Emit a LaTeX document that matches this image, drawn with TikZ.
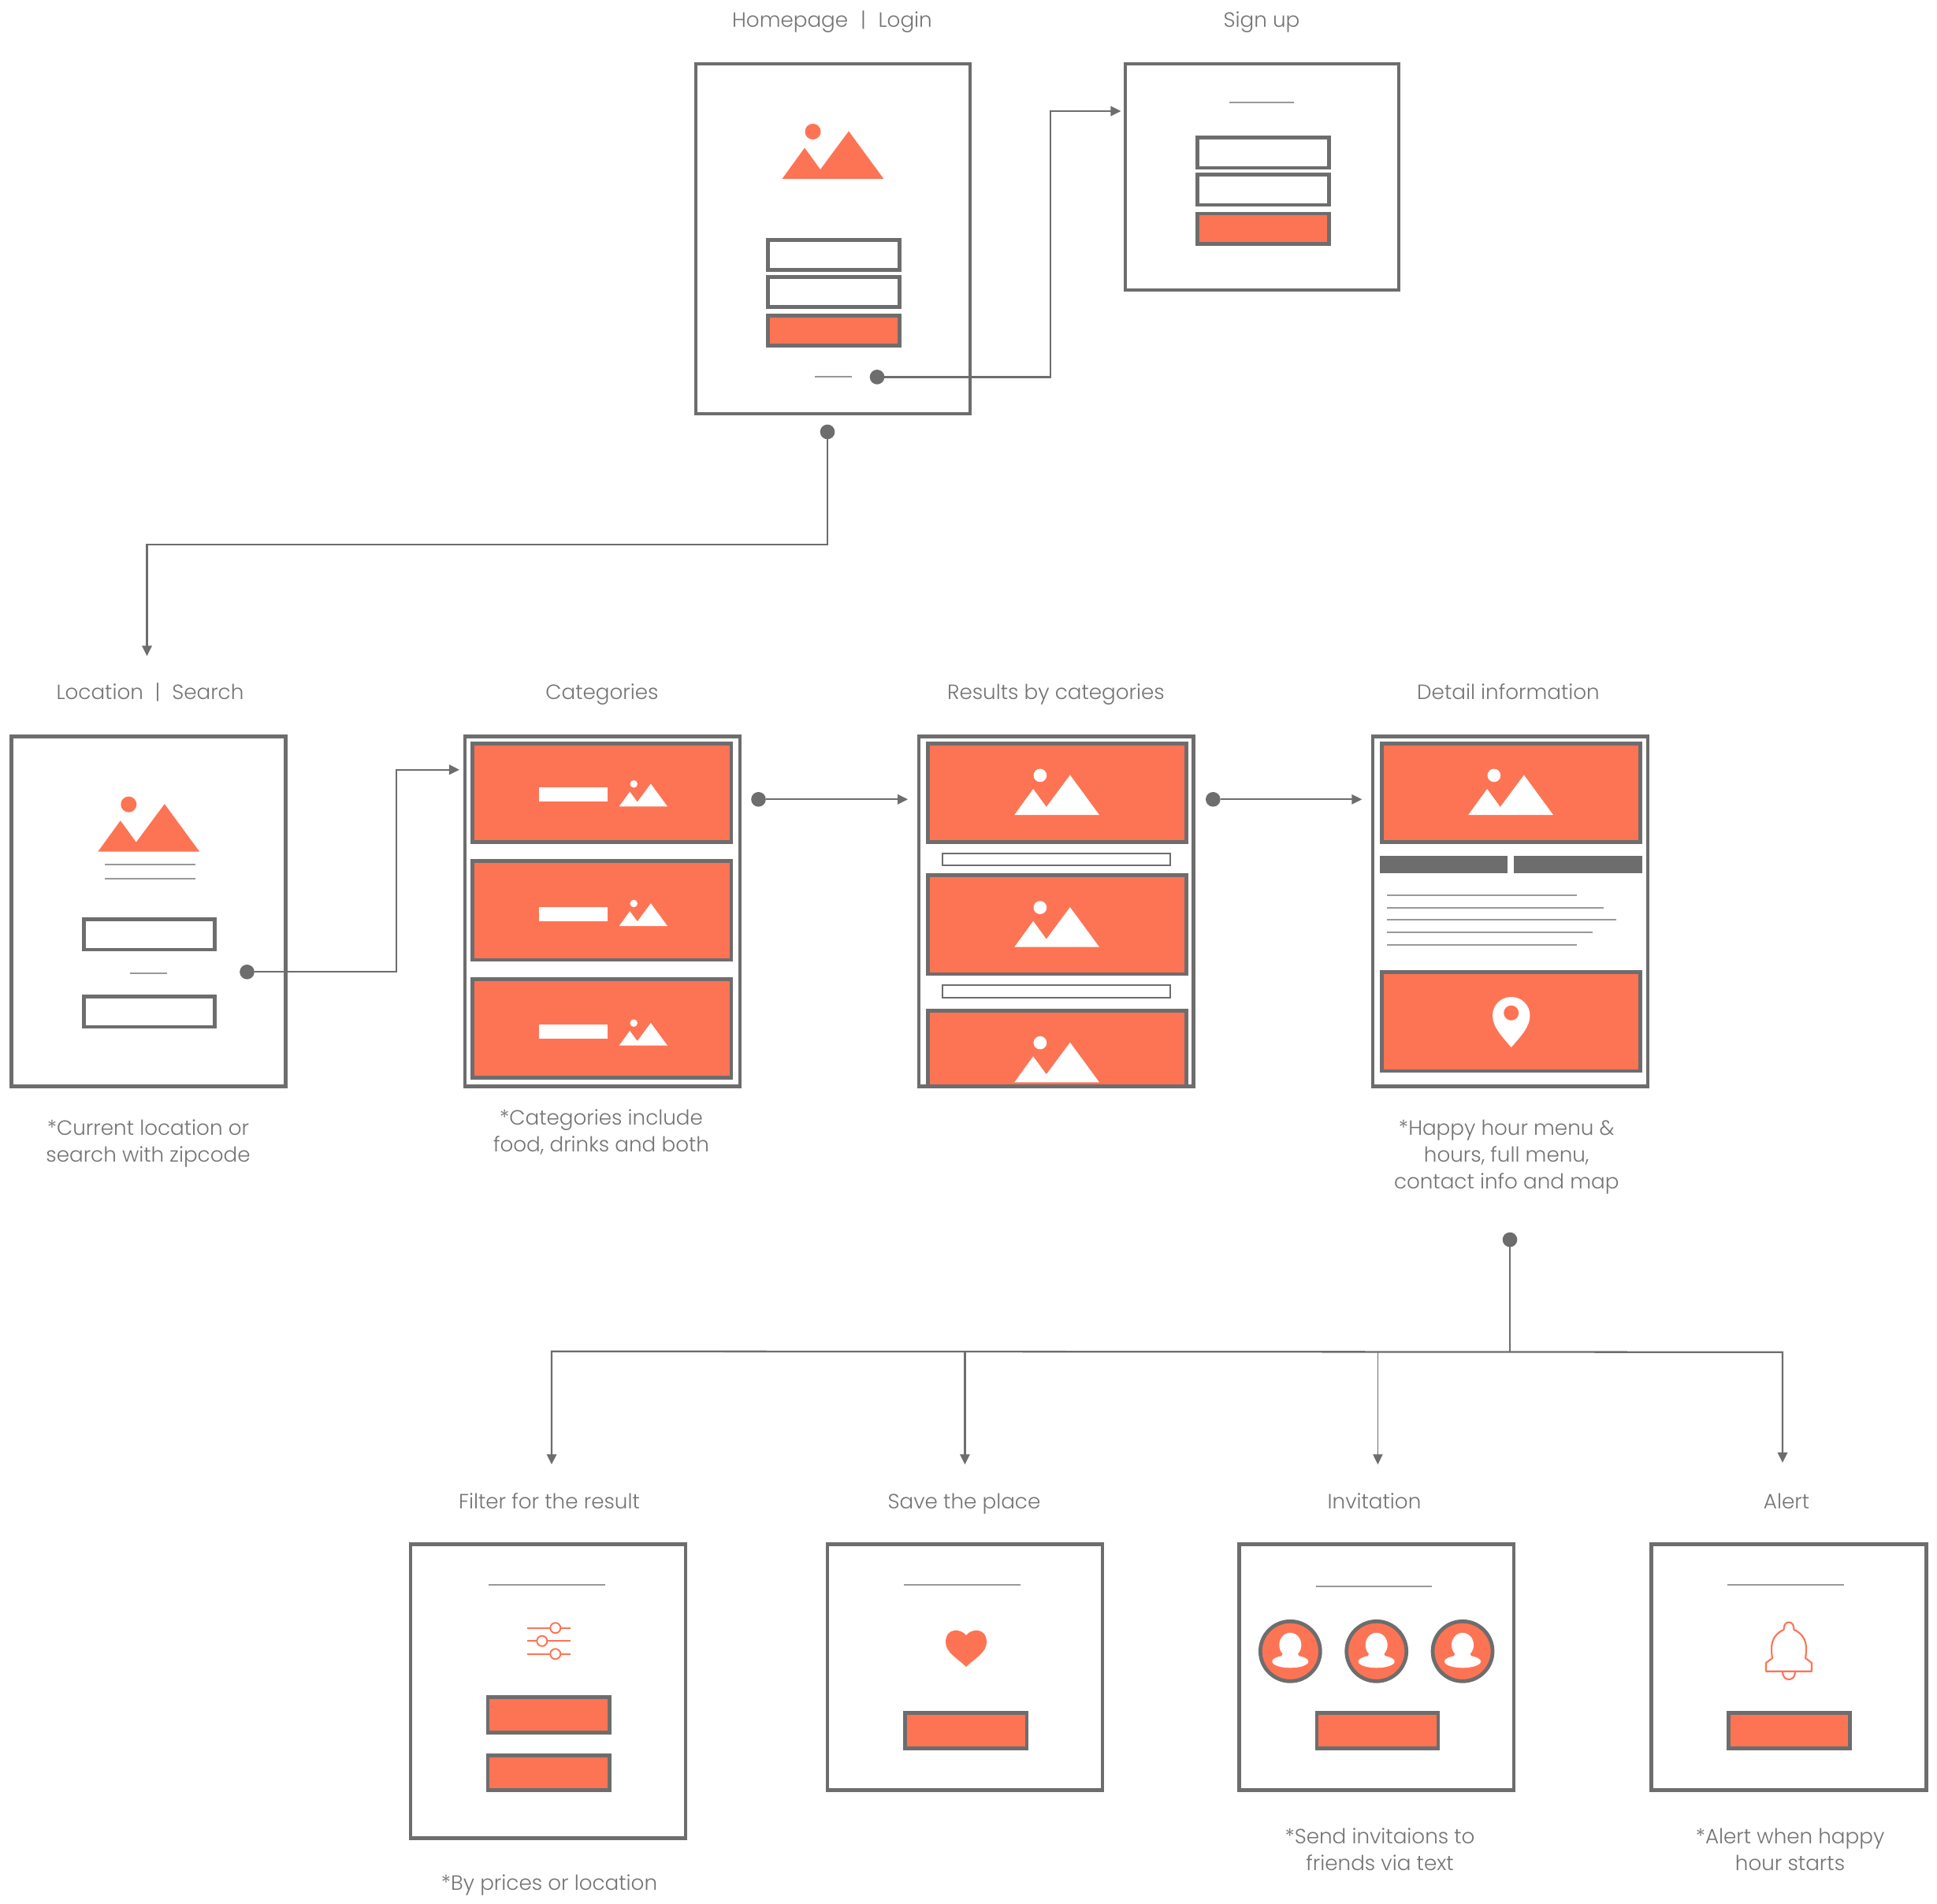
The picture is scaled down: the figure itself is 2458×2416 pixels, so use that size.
\documentclass[tikz,border=0pt]{standalone}
\usepackage{fontspec}
\setmainfont{Poppins}[UprightFont=* Light]
\usetikzlibrary{arrows.meta}
\definecolor{ink}{HTML}{6D6D6D}
\definecolor{coral}{HTML}{FD7455}
\definecolor{rule}{HTML}{999999}
\definecolor{txt}{HTML}{737373}
\tikzset{
  screen/.style={draw=ink,line width=1.4pt,fill=white,inner sep=0pt,outer sep=0pt},
  field/.style={draw=ink,line width=1.35pt,fill=white,inner sep=0pt,outer sep=0pt},
  cta/.style={draw=ink,line width=1.35pt,fill=coral,inner sep=0pt,outer sep=0pt},
  slim/.style={draw=ink,line width=.6pt,fill=white,inner sep=0pt,outer sep=0pt},
  solid bar/.style={fill=ink,inner sep=0pt,outer sep=0pt},
  white bar/.style={fill=white,inner sep=0pt,outer sep=0pt},
  hair/.style={draw=rule,line width=.6pt},
  dot/.style={circle,fill=ink,inner sep=0pt,outer sep=0pt,minimum size=5.3pt},
  link/.style={draw=ink,line width=.65pt,-{Triangle[length=3.7pt,width=3.5pt]}},
  linkplain/.style={draw=ink,line width=.65pt},
  lbl/.style={text=txt,font=\fontsize{7.45}{9.67}\selectfont,align=center,inner sep=0pt,
    execute at begin node=\strut,execute at end node=\strut},
}
% name, x1, y1, x2, y2, style
\newcommand{\bx}[6]{\node[#6,minimum width=(#4-#2)*0.01cm,minimum height=(#5-#3)*0.01cm] (#1) at ({(#2+#4)/2},{(#3+#5)/2}) {};}
% x (left of base), y (base), scale, colour
\newcommand{\mount}[4]{%
  \fill[#4] ({#1},{#2}) -- ({#1+28.5*#3},{#2-39.4*#3}) -- ({#1+48.5*#3},{#2-12*#3}) -- ({#1+84.5*#3},{#2-60.5*#3}) -- ({#1+128.9*#3},{#2}) -- cycle;
  \fill[#4] ({#1+39*#3},{#2-60*#3}) circle[radius={10*#3}];}
% centre x, y
\newcommand{\person}[2]{%
  \fill[coral,draw=ink,line width=1.35pt] ({#1},{#2}) circle[radius=38];
  \fill[white] ({#1},{#2-8}) ellipse[x radius=14,y radius=15.5];
  \fill[white] ({#1-8},{#2}) -- ({#1+8},{#2}) -- ({#1+12},{#2+8}) -- ({#1-12},{#2+8}) -- cycle;
  \fill[white] ({#1},{#2+13}) ellipse[x radius=23,y radius=8];}
\begin{document}
\begin{tikzpicture}[x=0.01cm,y=-0.01cm]
\useasboundingbox (0,0) rectangle (2458,2416);

% --- titles
\node[lbl] (tHome) at (1056,27.5) {Homepage\hspace{4.5pt}|\hspace{4.5pt}Login};
\node[lbl] (tSign) at (1601,27.5) {Sign up};
\node[lbl] (tLoc) at (190.5,880.5) {Location\hspace{4.2pt}|\hspace{4.2pt}Search};
\node[lbl] (tCat) at (764,880.5) {Categories};
\node[lbl] (tRes) at (1340,880.5) {Results by categories};
\node[lbl] (tDet) at (1914,880.5) {Detail information};
\node[lbl] (tFil) at (697,1907.5) {Filter for the result};
\node[lbl] (tSav) at (1223.5,1907.5) {Save the place};
\node[lbl] (tInv) at (1744,1907.5) {Invitation};
\node[lbl] (tAle) at (2267,1907.5) {Alert};
% --- notes
\node[lbl] (nLoc) at (188,1452.5) {*Current location or\\search with zipcode};
\node[lbl] (nCat) at (763,1439.5) {*Categories include\\food, drinks and both};
\node[lbl] (nDet) at (1911.7,1469.5) {*Happy hour menu \&\\hours, full menu,\\contact info and map};
\node[lbl] (nFil) at (697,2391.5) {*By prices or location};
\node[lbl] (nInv) at (1751,2352) {*Send invitaions to\\friends via text};
\node[lbl] (nAle) at (2271.5,2352) {*Alert when happy\\hour starts};

% --- Homepage
\bx{home}{883}{81}{1231}{525}{screen}
\mount{992.5}{227}{1}{coral}
\bx{homeA}{974.3}{304.3}{1141.3}{342.7}{field}
\bx{homeB}{974.3}{351.3}{1141.3}{389.7}{field}
\bx{homeC}{974.3}{400.3}{1141.3}{438.7}{cta}
\draw[hair] (1033.9,478.4) -- (1080.6,478.4);

% --- Sign up
\bx{sign}{1428}{81}{1775}{368}{screen}
\draw[hair] (1560,130) -- (1641.8,130);
\bx{signA}{1519.3}{174.7}{1686.3}{213}{field}
\bx{signB}{1519.3}{221.7}{1686.3}{260}{field}
\bx{signC}{1519.3}{271}{1686.3}{309.3}{cta}

% --- Location
\bx{loc}{14.5}{934.5}{362.7}{1378.5}{screen}
\mount{124.3}{1080.7}{1}{coral}
\draw[hair] (133,1097) -- (248,1097);
\draw[hair] (133,1115) -- (248,1115);
\bx{locA}{106.3}{1166.6}{272.7}{1205}{field}
\draw[hair] (164.7,1235.3) -- (212,1235.3);
\bx{locB}{106.3}{1264.6}{272.7}{1303}{field}

% --- Categories
\bx{cat}{590}{934.5}{939}{1378.5}{screen}
\bx{catA}{599.5}{943.3}{928}{1068.8}{cta}
\bx{catB}{599.5}{1092.5}{928}{1218}{cta}
\bx{catC}{599.5}{1242.3}{928}{1367.8}{cta}
\bx{catAb}{684}{999}{771}{1017}{white bar}
\bx{catBb}{684}{1150.7}{771}{1168.7}{white bar}
\bx{catCb}{684}{1300}{771}{1318.3}{white bar}
\mount{785.7}{1023.3}{.475}{white}
\mount{785.7}{1175}{.475}{white}
\mount{785.7}{1326.7}{.475}{white}

% --- Results
\bx{res}{1166}{934.5}{1514.5}{1378.5}{screen}
\bx{resA}{1177.5}{943.3}{1505.8}{1068.8}{cta}
\bx{resS}{1196.3}{1082.7}{1484.7}{1098.3}{slim}
\bx{resB}{1177.5}{1110.5}{1505.8}{1236}{cta}
\bx{resT}{1196.3}{1250.3}{1484.7}{1265.7}{slim}
\bx{resC}{1177.5}{1282.3}{1505.8}{1378.5}{cta}
\mount{1287.3}{1034}{.835}{white}
\mount{1287.3}{1201.7}{.835}{white}
\mount{1287.3}{1373.3}{.835}{white}

% --- Detail
\bx{det}{1742}{934.5}{2091}{1378.5}{screen}
\bx{detA}{1753.2}{943.3}{2081.8}{1068.8}{cta}
\mount{1863.3}{1034}{.835}{white}
\bx{detL}{1751}{1086}{1913.3}{1108.3}{solid bar}
\bx{detR}{1921}{1086}{2083.7}{1108.3}{solid bar}
\draw[hair] (1760,1136) -- (2001,1136);
\draw[hair] (1760,1152) -- (2034.7,1152);
\draw[hair] (1760,1167.3) -- (2050.7,1167.3);
\draw[hair] (1760,1183) -- (2021.3,1183);
\draw[hair] (1760,1199) -- (2001,1199);
\bx{detM}{1753.2}{1233.2}{2081.8}{1359}{cta}
\fill[white] (1917.7,1329) .. controls (1905,1314) and (1894,1303) .. (1894,1288.5) .. controls (1894,1275) and (1905,1265) .. (1917.7,1265) .. controls (1930.5,1265) and (1941.4,1275) .. (1941.4,1288.5) .. controls (1941.4,1303) and (1930.5,1314) .. (1917.7,1329) -- cycle;
\fill[coral] (1917.7,1285.3) circle[radius=9.5];

% --- Filter
\bx{fil}{521}{1959.2}{870}{2332.8}{screen}
\draw[hair] (620.3,2010.7) -- (768.2,2010.7);
\foreach \yy/\xx in {2065.7/704.8,2082.3/687.8,2098.7/704.8}{
  \draw[coral,line width=.6pt] (669,\yy) -- (724.2,\yy);
  \draw[coral,line width=.55pt,fill=white] (\xx,\yy) circle[radius=6.5];
}
\bx{filA}{619}{2153.5}{773.6}{2198.5}{cta}
\bx{filB}{619}{2227.5}{773.6}{2271.8}{cta}

% --- Save
\bx{sav}{1050}{1959.2}{1399}{2271.8}{screen}
\draw[hair] (1147.3,2010.7) -- (1295.2,2010.7);
\fill[coral] (1226,2075) .. controls (1219,2066) and (1200,2065) .. (1200,2084) .. controls (1200,2097) and (1216,2105) .. (1226,2115) .. controls (1236,2105) and (1252,2097) .. (1252,2084) .. controls (1252,2065) and (1233,2066) .. (1226,2075) -- cycle;
\bx{savA}{1148.2}{2173.5}{1303}{2218.5}{cta}

% --- Invitation
\bx{inv}{1572.5}{1959.2}{1921}{2271.8}{screen}
\draw[hair] (1670,2012.7) -- (1817,2012.7);
\person{1637.3}{2095.3}
\person{1746.7}{2095.3}
\person{1856}{2095.3}
\bx{invA}{1671}{2173.5}{1825}{2218.5}{cta}

% --- Alert
\bx{ale}{2095.4}{1959.2}{2444}{2271.8}{screen}
\draw[hair] (2192.3,2010.7) -- (2340,2010.7);
\draw[coral,line width=.6pt,line join=round] (2262,2120.7) .. controls (2262,2127) and (2265,2131) .. (2270,2131) .. controls (2275,2131) and (2278,2127) .. (2278,2120.7);
\draw[coral,line width=.6pt,line join=round,fill=white] (2270,2058.5) .. controls (2266,2058.5) and (2263.5,2062) .. (2263.5,2068) .. controls (2254,2072) and (2248,2080) .. (2248,2092) .. controls (2248,2097) and (2248.5,2101) .. (2249,2104) -- (2241,2110) -- (2241,2120.7) -- (2299,2120.7) -- (2299,2110) -- (2291,2104) .. controls (2291.5,2101) and (2292,2097) .. (2292,2092) .. controls (2292,2080) and (2286,2072) .. (2276.5,2068) .. controls (2276.5,2062) and (2274,2058.5) .. (2270,2058.5) -- cycle;
\bx{aleA}{2193.2}{2173.5}{2347.6}{2218.5}{cta}

% --- connectors
\node[dot] (dHomeR) at (1113,478.4) {};
\node[dot] (dHomeB) at (1050,548) {};
\node[dot] (dLoc) at (313.5,1233.3) {};
\node[dot] (dCat) at (962.5,1014.3) {};
\node[dot] (dRes) at (1539.3,1014.3) {};
\node[dot] (dDet) at (1916,1573) {};
\coordinate (eSign) at (1422.4,141);
\coordinate (eLoc) at (186.5,832.5);
\coordinate (eCat) at (583,976.7);
\coordinate (eRes) at (1152,1014.3);
\coordinate (eDet) at (1728.3,1014.3);
\coordinate (jDet) at (1916,1715.5);
\coordinate (eFil) at (700,1858.3);
\coordinate (eSav) at (1224.4,1858.3);
\coordinate (eInv) at (1748.4,1858.3);
\coordinate (eAle) at (2262,1856);
\draw[link] (dHomeR) -- (1333,478.4) -- (1333,141) -- (eSign);
\draw[link] (dHomeB) -- (1050,691) -- (186.5,691) -- (eLoc);
\draw[link] (dLoc) -- (502.7,1233.3) -- (502.7,976.7) -- (eCat);
\draw[link] (dCat) -- (eRes);
\draw[link] (dRes) -- (eDet);
\draw[linkplain] (dDet) -- (jDet);
\draw[link] (jDet) -- (700,1714.7) -- (eFil);
\draw[link] (1224.4,1715.1) -- (eSav);
\draw[link,line width=.45pt] (1748.4,1715.4) -- (eInv);
\draw[link] (jDet) -- (2262,1715.8) -- (eAle);
\end{tikzpicture}
\end{document}
